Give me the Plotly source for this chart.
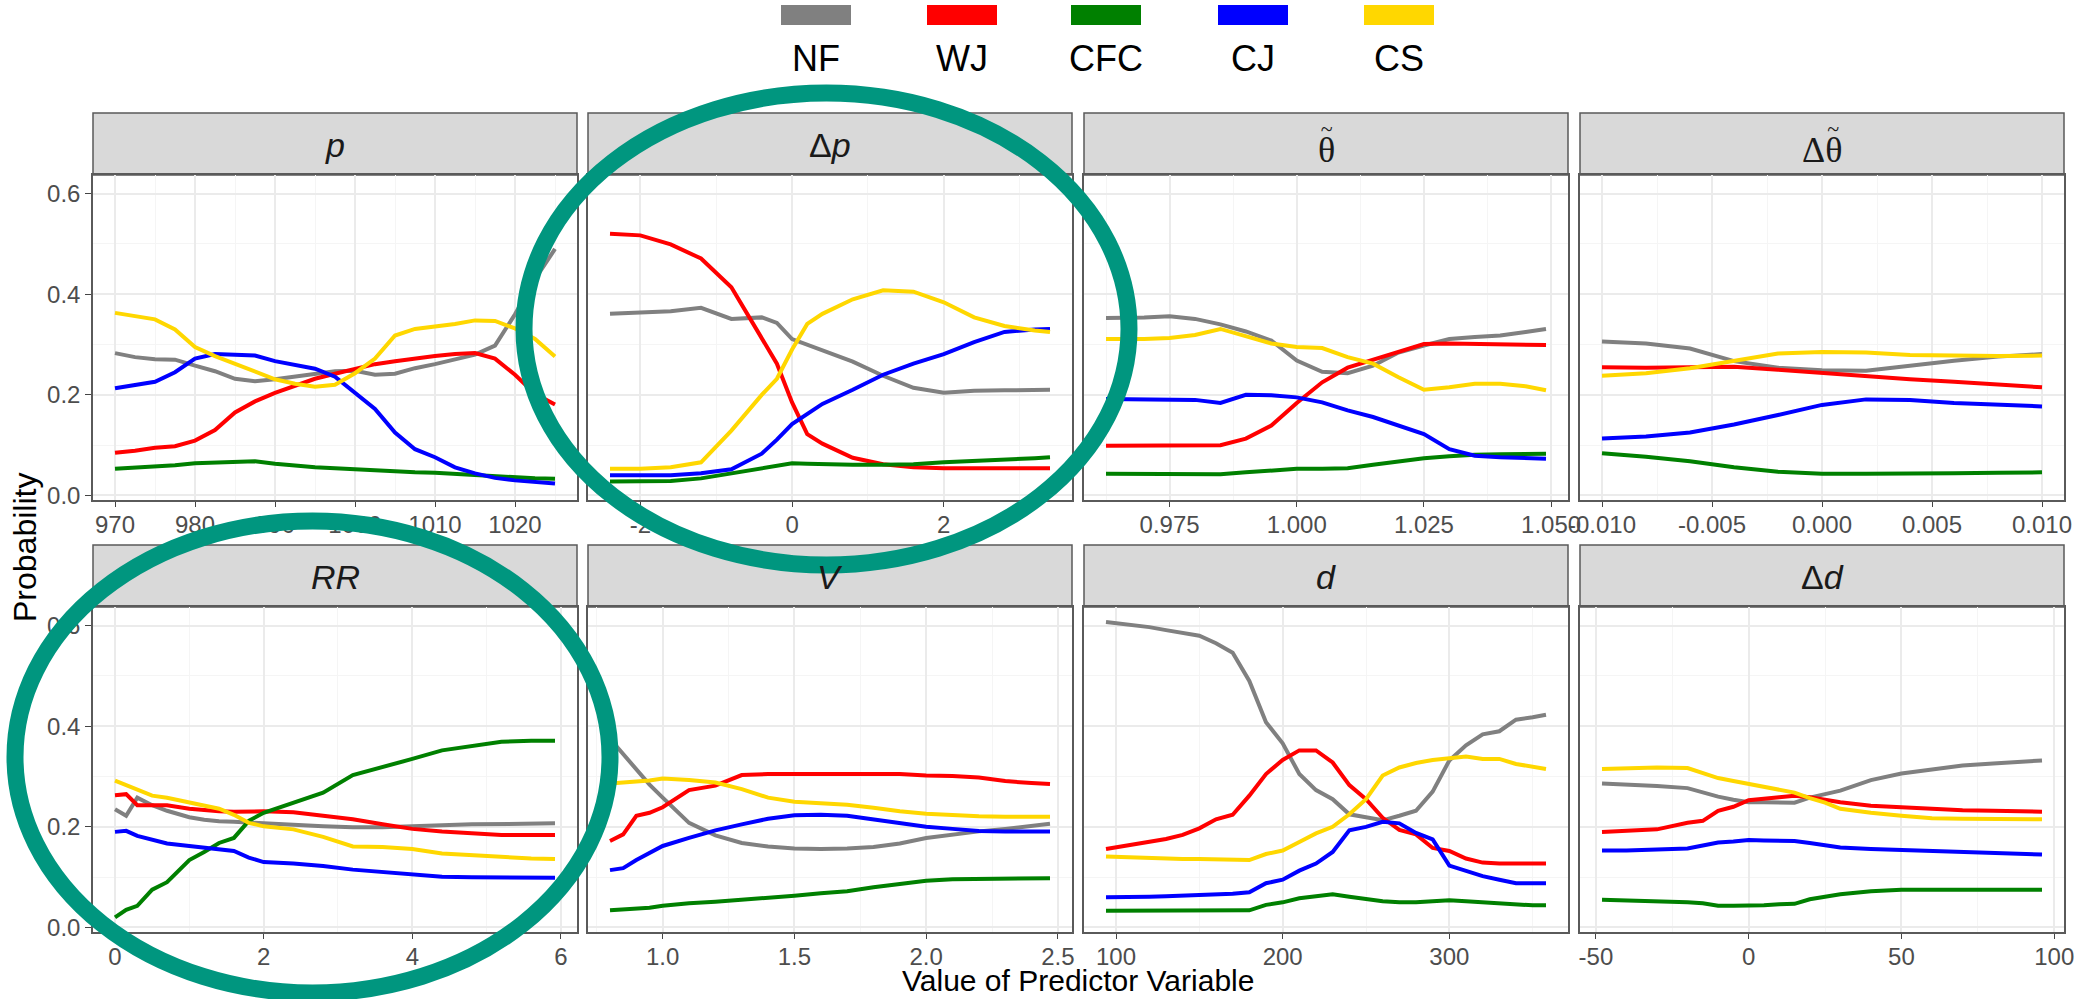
import plotly.graph_objects as go

W, H = 2075, 999
SANS = "Liberation Sans, Arial, Helvetica, sans-serif"
SERIF = "Liberation Serif, Times New Roman, serif"

# ---- classes -------------------------------------------------------------
class_names = ["NF", "WJ", "CFC", "CJ", "CS"]
class_colors = ["#808080", "#FF0000", "#008000", "#0000FF", "#FFD700"]

# ---- predictor: p ---------------------------------------------------------
p_x = [970, 972.5, 975, 977.5, 980, 982.5, 985, 987.5, 990, 992.5, 995, 997.5,
       1000, 1002.5, 1005, 1007.5, 1010, 1012.5, 1015, 1017.5, 1020, 1022.5, 1025]
p_NF = [0.283, 0.275, 0.271, 0.270, 0.258, 0.247, 0.232, 0.227, 0.231, 0.237, 0.242, 0.247,
        0.248, 0.240, 0.242, 0.253, 0.261, 0.270, 0.280, 0.298, 0.360, 0.430, 0.490]
p_WJ = [0.085, 0.089, 0.095, 0.098, 0.109, 0.130, 0.165, 0.187, 0.204, 0.219, 0.232, 0.242,
        0.252, 0.261, 0.267, 0.273, 0.277, 0.281, 0.283, 0.272, 0.240, 0.202, 0.181]
p_CFC = [0.053, 0.055, 0.058, 0.060, 0.064, 0.065, 0.067, 0.068, 0.063, 0.059, 0.056, 0.054,
         0.052, 0.050, 0.047, 0.046, 0.045, 0.043, 0.040, 0.037, 0.036, 0.034, 0.033]
p_CJ = [0.213, 0.219, 0.226, 0.245, 0.272, 0.281, 0.280, 0.278, 0.267, 0.260, 0.252, 0.236,
        0.205, 0.172, 0.125, 0.092, 0.076, 0.056, 0.044, 0.035, 0.030, 0.027, 0.024]
p_CS = [0.363, 0.357, 0.350, 0.330, 0.295, 0.277, 0.262, 0.247, 0.231, 0.222, 0.216, 0.220,
        0.243, 0.272, 0.318, 0.331, 0.336, 0.341, 0.348, 0.347, 0.332, 0.311, 0.276]

# ---- predictor: delta p ---------------------------------------------------
dp_x = [-2.4, -2.0, -1.6, -1.2, -0.8, -0.4, -0.2, 0.0, 0.2, 0.4, 0.8, 1.2, 1.6, 2.0, 2.4, 2.8, 3.2, 3.4]
dp_NF = [0.361, 0.363, 0.366, 0.373, 0.351, 0.354, 0.343, 0.311, 0.300, 0.290, 0.266, 0.238,
         0.214, 0.204, 0.208, 0.209, 0.209, 0.210]
dp_WJ = [0.520, 0.517, 0.499, 0.471, 0.414, 0.315, 0.262, 0.185, 0.122, 0.103, 0.075, 0.062,
         0.056, 0.054, 0.054, 0.054, 0.054, 0.054]
dp_CFC = [0.028, 0.028, 0.029, 0.034, 0.044, 0.056, 0.060, 0.064, 0.063, 0.062, 0.061, 0.061,
          0.062, 0.066, 0.068, 0.071, 0.074, 0.076]
dp_CJ = [0.040, 0.040, 0.040, 0.044, 0.052, 0.083, 0.111, 0.142, 0.163, 0.182, 0.210, 0.240,
         0.262, 0.281, 0.305, 0.325, 0.330, 0.331]
dp_CS = [0.053, 0.053, 0.056, 0.066, 0.129, 0.200, 0.232, 0.290, 0.341, 0.361, 0.390, 0.408,
         0.405, 0.384, 0.354, 0.337, 0.328, 0.325]

# ---- predictor: theta-tilde -------------------------------------------------
th_x = [0.9625, 0.965, 0.970, 0.975, 0.980, 0.985, 0.990, 0.995, 1.000, 1.005, 1.010,
        1.015, 1.020, 1.025, 1.030, 1.035, 1.040, 1.045, 1.049]
th_NF = [0.353, 0.353, 0.354, 0.356, 0.351, 0.340, 0.326, 0.308, 0.268, 0.246, 0.243,
         0.258, 0.284, 0.298, 0.311, 0.315, 0.318, 0.325, 0.331]
th_WJ = [0.099, 0.099, 0.099, 0.099, 0.099, 0.100, 0.113, 0.139, 0.184, 0.225, 0.254,
         0.270, 0.287, 0.301, 0.302, 0.301, 0.299, 0.299, 0.299]
th_CFC = [0.043, 0.043, 0.043, 0.043, 0.042, 0.042, 0.046, 0.049, 0.053, 0.053, 0.054,
          0.061, 0.068, 0.074, 0.078, 0.081, 0.082, 0.083, 0.083]
th_CJ = [0.192, 0.192, 0.192, 0.192, 0.190, 0.184, 0.200, 0.199, 0.195, 0.185, 0.169,
         0.156, 0.140, 0.122, 0.092, 0.079, 0.076, 0.075, 0.073]
th_CS = [0.311, 0.311, 0.311, 0.313, 0.319, 0.331, 0.317, 0.302, 0.295, 0.293, 0.275,
         0.262, 0.235, 0.210, 0.215, 0.222, 0.222, 0.217, 0.209]

# ---- predictor: delta theta-tilde -------------------------------------------
dth_x = [-0.010, -0.008, -0.006, -0.004, -0.002, 0.000, 0.002, 0.004, 0.006, 0.008, 0.010]
dth_NF = [0.306, 0.302, 0.292, 0.267, 0.254, 0.249, 0.248, 0.259, 0.268, 0.276, 0.281]
dth_WJ = [0.255, 0.254, 0.255, 0.256, 0.250, 0.243, 0.236, 0.231, 0.226, 0.220, 0.215]
dth_CFC = [0.084, 0.077, 0.068, 0.056, 0.047, 0.043, 0.043, 0.043, 0.044, 0.045, 0.046]
dth_CJ = [0.113, 0.117, 0.125, 0.141, 0.160, 0.180, 0.191, 0.190, 0.184, 0.180, 0.177]
dth_CS = [0.238, 0.243, 0.253, 0.268, 0.282, 0.285, 0.284, 0.279, 0.277, 0.277, 0.278]

# ---- predictor: RR ----------------------------------------------------------
rr_x = [0, 0.15, 0.3, 0.5, 0.7, 1.0, 1.2, 1.4, 1.6, 1.8, 2.0, 2.4, 2.8, 3.2, 3.6, 4.0,
        4.4, 4.8, 5.2, 5.6, 5.92]
rr_NF = [0.235, 0.222, 0.258, 0.243, 0.232, 0.219, 0.214, 0.211, 0.210, 0.209, 0.207, 0.204,
         0.201, 0.199, 0.199, 0.200, 0.203, 0.205, 0.206, 0.206, 0.207]
rr_WJ = [0.263, 0.265, 0.243, 0.242, 0.243, 0.236, 0.233, 0.231, 0.230, 0.231, 0.231, 0.229,
         0.222, 0.215, 0.205, 0.196, 0.191, 0.187, 0.184, 0.184, 0.184]
rr_CFC = [0.020, 0.035, 0.043, 0.075, 0.090, 0.134, 0.150, 0.168, 0.178, 0.212, 0.228, 0.248,
          0.268, 0.303, 0.318, 0.335, 0.352, 0.360, 0.369, 0.371, 0.371]
rr_CJ = [0.190, 0.192, 0.182, 0.174, 0.167, 0.162, 0.159, 0.157, 0.152, 0.139, 0.130, 0.127,
         0.122, 0.115, 0.110, 0.105, 0.101, 0.100, 0.099, 0.099, 0.099]
rr_CS = [0.292, 0.283, 0.273, 0.262, 0.258, 0.249, 0.242, 0.236, 0.224, 0.208, 0.201, 0.195,
         0.180, 0.161, 0.160, 0.156, 0.147, 0.143, 0.139, 0.137, 0.136]

# ---- predictor: V -----------------------------------------------------------
v_x = [0.80, 0.85, 0.90, 0.95, 1.00, 1.10, 1.20, 1.30, 1.40, 1.50, 1.60, 1.70, 1.80,
       1.90, 2.00, 2.10, 2.20, 2.30, 2.40, 2.47]
v_NF = [0.375, 0.345, 0.316, 0.284, 0.258, 0.208, 0.183, 0.168, 0.161, 0.157, 0.156, 0.157,
        0.160, 0.167, 0.178, 0.185, 0.191, 0.196, 0.202, 0.206]
v_WJ = [0.172, 0.185, 0.222, 0.228, 0.239, 0.273, 0.282, 0.303, 0.305, 0.305, 0.305, 0.304,
        0.305, 0.305, 0.302, 0.301, 0.298, 0.291, 0.287, 0.285]
v_CFC = [0.034, 0.035, 0.037, 0.039, 0.043, 0.048, 0.051, 0.055, 0.058, 0.063, 0.068, 0.072,
         0.080, 0.087, 0.093, 0.096, 0.097, 0.097, 0.098, 0.098]
v_CJ = [0.114, 0.118, 0.134, 0.147, 0.162, 0.178, 0.193, 0.205, 0.216, 0.223, 0.224, 0.222,
        0.215, 0.209, 0.200, 0.196, 0.192, 0.191, 0.191, 0.191]
v_CS = [0.286, 0.287, 0.290, 0.292, 0.296, 0.293, 0.288, 0.275, 0.258, 0.250, 0.247, 0.244,
        0.238, 0.231, 0.226, 0.223, 0.221, 0.220, 0.220, 0.220]

# ---- predictor: d -----------------------------------------------------------
d_x = [94, 110, 120, 130, 140, 150, 160, 170, 180, 190, 200, 210, 220, 230, 240, 250, 260,
       270, 280, 290, 300, 310, 320, 330, 340, 350, 358]
d_NF = [0.607, 0.601, 0.597, 0.591, 0.585, 0.580, 0.565, 0.546, 0.490, 0.408, 0.366, 0.305,
        0.273, 0.255, 0.225, 0.218, 0.213, 0.222, 0.232, 0.270, 0.332, 0.362, 0.384, 0.390,
        0.413, 0.418, 0.423]
d_WJ = [0.156, 0.164, 0.169, 0.176, 0.184, 0.197, 0.215, 0.224, 0.262, 0.305, 0.333, 0.352,
        0.352, 0.328, 0.283, 0.255, 0.218, 0.194, 0.185, 0.158, 0.152, 0.137, 0.129, 0.127,
        0.127, 0.127, 0.127]
d_CFC = [0.033, 0.033, 0.033, 0.033, 0.033, 0.033, 0.034, 0.034, 0.034, 0.045, 0.050, 0.058,
         0.063, 0.066, 0.061, 0.057, 0.052, 0.050, 0.050, 0.052, 0.054, 0.052, 0.050, 0.047,
         0.045, 0.044, 0.044]
d_CJ = [0.060, 0.060, 0.061, 0.062, 0.063, 0.064, 0.066, 0.067, 0.070, 0.088, 0.095, 0.113,
        0.127, 0.150, 0.193, 0.200, 0.210, 0.207, 0.188, 0.175, 0.123, 0.112, 0.102, 0.095,
        0.088, 0.088, 0.088]
d_CS = [0.141, 0.139, 0.137, 0.137, 0.136, 0.136, 0.135, 0.134, 0.134, 0.146, 0.153, 0.170,
        0.187, 0.200, 0.225, 0.255, 0.302, 0.318, 0.327, 0.333, 0.337, 0.340, 0.335, 0.335,
        0.325, 0.320, 0.315]

# ---- predictor: delta d -----------------------------------------------------
dd_x = [-48, -40, -30, -20, -15, -10, -5, 0, 5, 10, 15, 20, 25, 30, 40, 50, 60, 70, 80, 90, 96]
dd_NF = [0.286, 0.284, 0.281, 0.277, 0.268, 0.260, 0.254, 0.249, 0.249, 0.248, 0.248, 0.258,
         0.266, 0.272, 0.293, 0.306, 0.314, 0.322, 0.326, 0.330, 0.332]
dd_WJ = [0.190, 0.192, 0.195, 0.208, 0.212, 0.232, 0.240, 0.253, 0.255, 0.259, 0.262, 0.259,
         0.254, 0.249, 0.242, 0.239, 0.236, 0.233, 0.232, 0.231, 0.230]
dd_CFC = [0.055, 0.054, 0.052, 0.050, 0.048, 0.043, 0.043, 0.043, 0.044, 0.046, 0.047, 0.056,
          0.061, 0.066, 0.072, 0.075, 0.075, 0.075, 0.075, 0.075, 0.075]
dd_CJ = [0.153, 0.153, 0.155, 0.157, 0.163, 0.169, 0.171, 0.174, 0.173, 0.172, 0.172, 0.168,
         0.164, 0.159, 0.156, 0.154, 0.152, 0.150, 0.148, 0.146, 0.145]
dd_CS = [0.315, 0.317, 0.318, 0.317, 0.308, 0.297, 0.291, 0.285, 0.278, 0.273, 0.268, 0.257,
         0.248, 0.236, 0.228, 0.222, 0.217, 0.216, 0.215, 0.215, 0.215]

# ---- tick labels ------------------------------------------------------------
y_ticks = [0.0, 0.2, 0.4, 0.6]
y_ticktext = ["0.0", "0.2", "0.4", "0.6"]
p_ticks = [970, 980, 990, 1000, 1010, 1020]
p_ticktext = ["970", "980", "990", "1000", "1010", "1020"]
dp_ticks = [-2, 0, 2]
dp_ticktext = ["-2", "0", "2"]
th_ticks = [0.975, 1.000, 1.025, 1.050]
th_ticktext = ["0.975", "1.000", "1.025", "1.050"]
dth_ticks = [-0.010, -0.005, 0.000, 0.005, 0.010]
dth_ticktext = ["-0.010", "-0.005", "0.000", "0.005", "0.010"]
rr_ticks = [0, 2, 4, 6]
rr_ticktext = ["0", "2", "4", "6"]
v_ticks = [1.0, 1.5, 2.0, 2.5]
v_ticktext = ["1.0", "1.5", "2.0", "2.5"]
d_ticks = [100, 200, 300]
d_ticktext = ["100", "200", "300"]
dd_ticks = [-50, 0, 50, 100]
dd_ticktext = ["-50", "0", "50", "100"]

# strip titles; the tilde accent sits on its own short line above the theta
TILDE = "<span style='font-size:22px'>{pad}~</span><br><span style='font-size:36px'>{base}</span>"
panels = [
    dict(label="<i>p</i>", serif=False, x=p_x,
         ys=[p_NF, p_WJ, p_CFC, p_CJ, p_CS], ticks=p_ticks, ticktext=p_ticktext),
    dict(label="\u0394<i>p</i>", serif=False, x=dp_x,
         ys=[dp_NF, dp_WJ, dp_CFC, dp_CJ, dp_CS], ticks=dp_ticks, ticktext=dp_ticktext),
    dict(label=TILDE.format(pad="", base="\u03b8"), serif=True, x=th_x,
         ys=[th_NF, th_WJ, th_CFC, th_CJ, th_CS], ticks=th_ticks, ticktext=th_ticktext),
    dict(label=TILDE.format(pad="\u00a0" * 4, base="\u0394\u03b8"), serif=True, x=dth_x,
         ys=[dth_NF, dth_WJ, dth_CFC, dth_CJ, dth_CS], ticks=dth_ticks, ticktext=dth_ticktext),
    dict(label="<i>RR</i>", serif=False, x=rr_x,
         ys=[rr_NF, rr_WJ, rr_CFC, rr_CJ, rr_CS], ticks=rr_ticks, ticktext=rr_ticktext),
    dict(label="<i>V</i>", serif=False, x=v_x,
         ys=[v_NF, v_WJ, v_CFC, v_CJ, v_CS], ticks=v_ticks, ticktext=v_ticktext),
    dict(label="<i>d</i>", serif=False, x=d_x,
         ys=[d_NF, d_WJ, d_CFC, d_CJ, d_CS], ticks=d_ticks, ticktext=d_ticktext),
    dict(label="\u0394<i>d</i>", serif=False, x=dd_x,
         ys=[dd_NF, dd_WJ, dd_CFC, dd_CJ, dd_CS], ticks=dd_ticks, ticktext=dd_ticktext),
]

# ---- page geometry (pixels) -------------------------------------------------
COL_LEFT = [93, 588, 1084, 1580]
PANEL_W = 484
STRIP_TOP = [113, 545]
STRIP_H = 62
PLOT_H = 325
Y_RANGE = [-0.009, 0.637]
BORDER = "#5A5A5A"
GRID_MAJOR = "#EBEBEB"
GRID_MINOR = "#F5F5F5"
TEAL = "#00967F"


def fx(px):
    return px / W


def fy(py):
    return 1 - py / H


def minor_between(ticks, lo, hi):
    step = ticks[1] - ticks[0]
    vals = [ticks[0] - step / 2] + [t + step / 2 for t in ticks]
    return [v for v in vals if lo < v < hi]


fig = go.Figure()
layout = dict(
    width=W, height=H,
    margin=dict(l=0, r=0, t=0, b=0),
    paper_bgcolor="white", plot_bgcolor="white",
    template="none", showlegend=False, hovermode=False,
    font=dict(family=SANS, color="#1A1A1A"),
)
shapes = []
annotations = []

for i, pan in enumerate(panels):
    r, c = divmod(i, 4)
    left = COL_LEFT[c]
    right = left + PANEL_W
    s_top = STRIP_TOP[r]
    p_top = s_top + STRIP_H
    p_bot = p_top + PLOT_H
    k = "" if i == 0 else str(i + 1)

    xs = pan["x"]
    span = max(xs) - min(xs)
    x_range = [min(xs) - 0.05 * span, max(xs) + 0.05 * span]

    for name, color, ys in zip(class_names, class_colors, pan["ys"]):
        fig.add_trace(go.Scatter(
            x=xs, y=ys, mode="lines", name=name,
            line=dict(color=color, width=4),
            xaxis="x" + k, yaxis="y" + k, showlegend=False, hoverinfo="skip",
        ))

    layout["xaxis" + k] = dict(
        domain=[fx(left), fx(right)], anchor="y" + k, range=x_range,
        tickmode="array", tickvals=pan["ticks"], ticktext=pan["ticktext"],
        ticks="outside", ticklen=5, tickwidth=1.4, tickcolor="#444444",
        ticklabelstandoff=-3,
        tickfont=dict(family=SANS, size=24, color="#4D4D4D"),
        showgrid=True, gridcolor=GRID_MAJOR, gridwidth=1.8,
        minor=dict(tickmode="array",
                   tickvals=minor_between(pan["ticks"], x_range[0], x_range[1]),
                   showgrid=True, gridcolor=GRID_MINOR, gridwidth=1, ticks=""),
        showline=True, mirror=True, linecolor=BORDER, linewidth=1.5,
        zeroline=False, automargin=False, fixedrange=True,
    )
    layout["yaxis" + k] = dict(
        domain=[fy(p_bot), fy(p_top)], anchor="x" + k, range=Y_RANGE,
        tickmode="array", tickvals=y_ticks, ticktext=y_ticktext,
        showticklabels=(c == 0), ticks="outside" if c == 0 else "",
        ticklen=6, tickwidth=1.4, tickcolor="#444444",
        tickfont=dict(family=SANS, size=24, color="#4D4D4D"),
        showgrid=True, gridcolor=GRID_MAJOR, gridwidth=1.8,
        minor=dict(tickmode="array", tickvals=[0.1, 0.3, 0.5],
                   showgrid=True, gridcolor=GRID_MINOR, gridwidth=1, ticks=""),
        showline=True, mirror=True, linecolor=BORDER, linewidth=1.5,
        zeroline=False, automargin=False, fixedrange=True,
    )

    # facet strip with its title
    cx = left + PANEL_W / 2
    shapes.append(dict(type="rect", xref="paper", yref="paper",
                       x0=fx(left), x1=fx(right), y0=fy(p_top), y1=fy(s_top),
                       fillcolor="#D9D9D9", line=dict(color=BORDER, width=1.5), layer="below"))
    if pan["serif"]:
        annotations.append(dict(
            text=pan["label"], xref="paper", yref="paper",
            x=fx(cx), y=fy(s_top + 30), xanchor="center", yanchor="middle",
            showarrow=False, font=dict(family=SERIF, size=20, color="#1A1A1A"),
        ))
    else:
        annotations.append(dict(
            text=pan["label"], xref="paper", yref="paper",
            x=fx(cx), y=fy(s_top + STRIP_H / 2 + 1),
            xanchor="center", yanchor="middle", showarrow=False,
            font=dict(family=SANS, size=34, color="#1A1A1A"),
        ))

# ---- legend: swatch above label -------------------------------------------
LEG_CX = [816, 962, 1106, 1253, 1399]
for name, color, cx in zip(class_names, class_colors, LEG_CX):
    shapes.append(dict(type="rect", xref="paper", yref="paper",
                       x0=fx(cx - 35), x1=fx(cx + 35), y0=fy(25), y1=fy(5),
                       fillcolor=color, line=dict(width=0), layer="above"))
    annotations.append(dict(text=name, xref="paper", yref="paper",
                            x=fx(cx), y=fy(58), xanchor="center", yanchor="middle",
                            showarrow=False,
                            font=dict(family=SANS, size=36, color="#000000")))

# ---- axis titles ------------------------------------------------------------
annotations.append(dict(text="Value of Predictor Variable", xref="paper", yref="paper",
                        x=fx(1078), y=fy(999), xanchor="center", yanchor="bottom",
                        showarrow=False, font=dict(family=SANS, size=30, color="#000000")))
annotations.append(dict(text="Probability", xref="paper", yref="paper",
                        x=fx(25), y=fy(548), xanchor="center", yanchor="middle",
                        textangle=-90, showarrow=False,
                        font=dict(family=SANS, size=32, color="#000000")))

# ---- highlight rings --------------------------------------------------------
for x0, y0, x1, y1 in [(524, 93, 1129, 565), (15, 521, 610, 993)]:
    shapes.append(dict(type="circle", xref="paper", yref="paper",
                       x0=fx(x0), x1=fx(x1), y0=fy(y1), y1=fy(y0),
                       line=dict(color=TEAL, width=17), fillcolor="rgba(0,0,0,0)",
                       layer="above"))

layout["shapes"] = shapes
layout["annotations"] = annotations
fig.update_layout(**layout)
fig.write_html("out.html")
